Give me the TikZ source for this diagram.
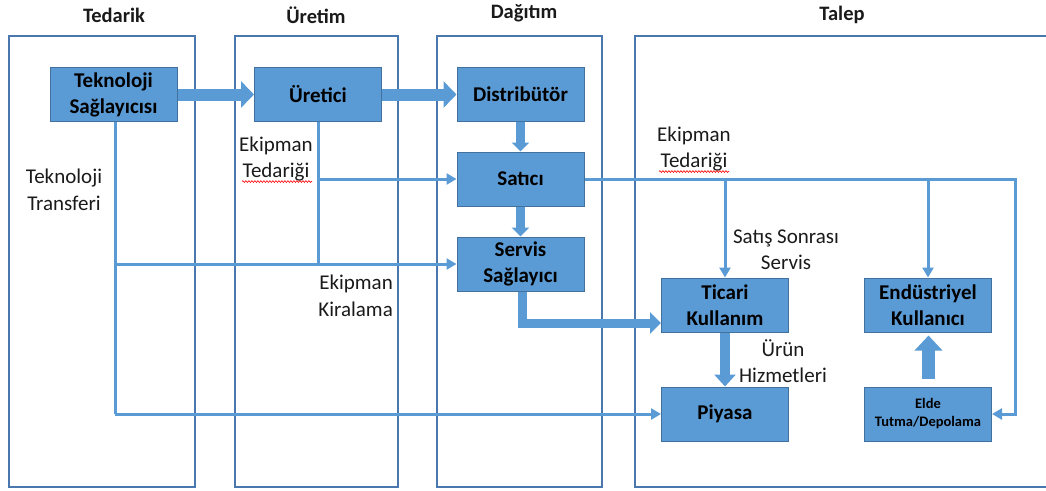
\documentclass[tikz,border=0pt]{standalone}
\usepackage{fontspec}
\setmainfont{Carlito}
\usetikzlibrary{arrows.meta,calc,decorations.pathmorphing}
\definecolor{boxfill}{HTML}{5B9BD5}
\definecolor{boxline}{HTML}{41719C}
\definecolor{colline}{HTML}{4A78AE}
\definecolor{linkblue}{HTML}{5B9BD5}
\definecolor{txt}{HTML}{1A1A1A}
\begin{document}
\begin{tikzpicture}[x=1pt,y=-1pt,
  colbox/.style={draw=colline,line width=2pt},
  header/.style={font=\bfseries\fontsize{20.5}{25}\selectfont,text=txt,inner sep=0pt},
  block/.style={draw=boxline,fill=boxfill,line width=1pt,minimum width=127pt,minimum height=54pt,
    inner sep=0pt,align=center,text=black,font=\bfseries\fontsize{21}{26}\selectfont},
  smallblock/.style={block,font=\bfseries\fontsize{14.5}{18}\selectfont},
  lbl/.style={align=center,inner sep=0pt,text=txt,font=\fontsize{21}{26.5}\selectfont},
  link/.style={draw=linkblue,line width=3pt,line join=miter},
  linkarrow/.style={link,-{Triangle[length=10pt,width=11pt]}},
  bigarrow/.style={draw=boxfill,line width=12pt,-{Triangle[length=13pt,width=26pt]}},
  midarrow/.style={draw=boxfill,line width=8.5pt,-{Triangle[length=9pt,width=17pt]}},
  wavy/.style={draw=red,line width=0.6pt,decorate,decoration={snake,amplitude=0.9pt,segment length=3pt}}
]
\useasboundingbox (0,0) rectangle (1046,490);

% columns
\draw[colbox] (9,36) rectangle (195,487);
\draw[colbox] (235,36) rectangle (398,487);
\draw[colbox] (437,36) rectangle (602,487);
\draw[colbox] (1050,36) -- (635,36) -- (635,487) -- (1050,487);

% headers
\node[header] (hTed) at (114,15) {Tedarik};
\node[header] (hUre) at (316,15) {Üretim};
\node[header] (hDag) at (524,13) {Dağıtım};
\node[header] (hTal) at (842,15) {Talep};

% boxes
\node[block] (tek) at (113.5,94.5) {Teknoloji\\Sağlayıcısı};
\node[block] (ure) at (318,94.5) {Üretici};
\node[block] (dis) at (520.5,94.5) {Distribütör};
\node[block] (sat) at (520.5,179) {Satıcı};
\node[block] (ser) at (520.5,264) {Servis\\Sağlayıcı};
\node[block] (tic) at (725,305) {Ticari\\Kullanım};
\node[block] (end) at (928,305) {Endüstriyel\\Kullanıcı};
\node[block] (piy) at (725,414) {Piyasa};
\node[smallblock] (eld) at (928,414) {Elde\\Tutma/Depolama};

% thin connectors
\coordinate (tekdown) at ($(tek.south)+(1.5,0)$);
\draw[link] (tekdown) -- (tekdown |- piy.west);
\draw[linkarrow] (tekdown |- piy.west) -- (piy.west);
\draw[linkarrow] (tekdown |- ser.west) -- (ser.west);
\draw[link] (ure.south) -- (ure.south |- ser.west);
\draw[linkarrow] (ure.south |- sat.west) -- (sat.west);
\coordinate (rc) at (1015,179);
\draw[linkarrow] (sat.east) -- (rc) -- (rc |- eld.east) -- (eld.east);
\draw[linkarrow] (tic.north |- sat.east) -- (tic.north);
\draw[linkarrow] (end.north |- sat.east) -- (end.north);

% block arrows
\draw[bigarrow] (tek.east) -- (ure.west);
\draw[bigarrow] (ure.east) -- (dis.west);
\draw[midarrow] (dis.south) -- (sat.north);
\draw[midarrow] (sat.south) -- (ser.north);
\draw[draw=boxfill,line width=9pt,line join=miter,-{Triangle[length=11pt,width=21pt]}]
  ([xshift=2pt]ser.south) |- ([yshift=-18pt]tic.west);
\draw[draw=boxfill,line width=10pt,-{Triangle[length=12pt,width=21pt]}] (tic.south) -- (piy.north);
\draw[draw=boxfill,line width=13pt,-{Triangle[length=15pt,width=27pt]}]
  ([xshift=0.5pt,yshift=8pt]eld.north) -- ([xshift=0.5pt,yshift=-3pt]end.south);

% labels
\node[lbl] (tt) at (64,190) {Teknoloji\\Transferi};
\node[lbl] (et1) at (276,159) {Ekipman\\Tedariği};
\node[lbl] (et2) at (694,149) {Ekipman\\Tedariği};
\node[lbl] (ss) at (786,250) {Satış Sonrası\\Servis};
\node[lbl,align=right,anchor=east] (ek) at (393,296) {Ekipman\\Kiralama};
\node[lbl] (uh) at (783,361) {Ürün\\Hizmetleri};

% spell-check underlines
\draw[wavy] ($(et1.south)+(-34,0)$) -- ($(et1.south)+(36,0)$);
\draw[wavy] ($(et2.south)+(-35,0)$) -- ($(et2.south)+(35,0)$);
\end{tikzpicture}
\end{document}
